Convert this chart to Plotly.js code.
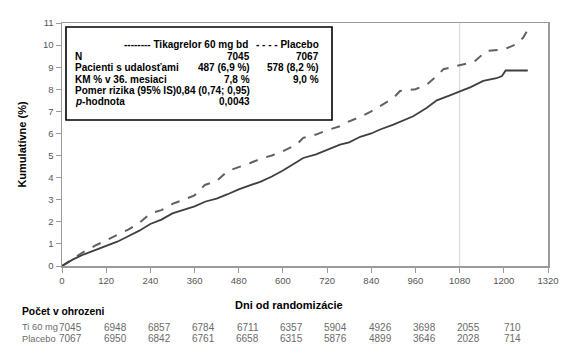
<!DOCTYPE html>
<html><head><meta charset="utf-8">
<script src="https://cdn.plot.ly/plotly-3.0.1.min.js"></script>
<style>html,body{margin:0;padding:0;background:#fff}#c{width:572px;height:358px}</style>
</head><body><div id="c"></div>
<script>
// ---- data ----
const ticaDays = [0,30,60,90,120,150,180,210,240,270,300,330,360,390,420,450,480,510,540,570,600,640,655,690,720,755,780,810,840,864,900,930,954,990,1018,1050,1081,1110,1144,1180,1195,1205,1265];
const ticaPct  = [0,0.3,0.53,0.72,0.9,1.1,1.35,1.6,1.9,2.1,2.38,2.55,2.7,2.92,3.05,3.25,3.47,3.65,3.82,4.05,4.32,4.73,4.89,5.05,5.25,5.49,5.6,5.85,6.0,6.18,6.4,6.6,6.78,7.15,7.5,7.7,7.92,8.1,8.38,8.5,8.6,8.85,8.85];
const placDays = [0,30,60,90,120,150,180,210,240,270,300,330,360,388,420,450,480,510,540,570,600,637,655,690,720,755,780,810,840,864,900,918,960,990,1018,1036,1090,1120,1153,1200,1235,1253,1262];
const placPct  = [0,0.32,0.65,0.92,1.17,1.42,1.65,1.95,2.38,2.53,2.81,3.0,3.2,3.67,3.85,4.3,4.46,4.65,4.86,5.0,5.2,5.49,5.8,5.95,6.15,6.33,6.55,6.75,7.0,7.24,7.6,7.92,8.0,8.2,8.6,8.91,9.14,9.25,9.74,9.8,10.05,10.35,10.6];
const xTicks = [0,120,240,360,480,600,720,840,960,1080,1200,1320];
const yTicks = [0,1,2,3,4,5,6,7,8,9,10,11];
const riskTica = [7045,6948,6857,6784,6711,6357,5904,4926,3698,2055,710];
const riskPlac = [7067,6950,6842,6761,6658,6315,5876,4899,3646,2028,714];
const riskLabels = ['Ti 60 mg','Placebo'];
const legHeader = ['-------- Tikagrelor 60 mg bd','- - - - Placebo'];
const legRows = ['N','Pacienti s udalosťami','KM % v 36. mesiaci','Pomer rizika (95% IS)','<i>p</i>-hodnota'];
const legTica = ['7045','487 (6,9 %)','7,8 %','0,84 (0,74; 0,95)','0,0043'];
const legPlac = ['7067','578 (8,2 %)','9,0 %','',''];

// ---- layout helpers ----
const L=62, R=548, T=23, B=266;
const px = x => (x-L)/(R-L);
const py = y => (B-y)/(B-T);
const F = 'Arial, "Liberation Sans", sans-serif';

const traces = [
  {x: placDays, y: placPct, mode:'lines', line:{color:'#606060', width:2, dash:'dash'}, showlegend:false, hoverinfo:'skip'},
  {x: ticaDays, y: ticaPct, mode:'lines', line:{color:'#3f3f3f', width:1.8}, showlegend:false, hoverinfo:'skip'}
];

const ann = [];
const boldFont = {family:F, size:10, color:'#000'};
ann.push({xref:'paper',yref:'paper',x:px(250),y:py(44),xanchor:'right',yanchor:'middle',text:'<b>'+legHeader[0]+'</b>',showarrow:false,font:boldFont});
ann.push({xref:'paper',yref:'paper',x:px(321),y:py(44),xanchor:'right',yanchor:'middle',text:'<b>'+legHeader[1]+'</b>',showarrow:false,font:boldFont});
const rowY = [56,67.7,79.3,91,102];
legRows.forEach((r,i)=>{
  ann.push({xref:'paper',yref:'paper',x:px(73),y:py(rowY[i]),xanchor:'left',yanchor:'middle',text:'<b>'+r+'</b>',showarrow:false,font:boldFont});
  if(legTica[i]) ann.push({xref:'paper',yref:'paper',x:px(252),y:py(rowY[i]),xanchor:'right',yanchor:'middle',text:'<b>'+legTica[i]+'</b>',showarrow:false,font:boldFont});
  if(legPlac[i]) ann.push({xref:'paper',yref:'paper',x:px(321),y:py(rowY[i]),xanchor:'right',yanchor:'middle',text:'<b>'+legPlac[i]+'</b>',showarrow:false,font:boldFont});
});
// x title
ann.push({xref:'paper',yref:'paper',x:px(289),y:py(305),xanchor:'center',yanchor:'middle',text:'<b>Dni od randomizácie</b>',showarrow:false,font:{family:F,size:11,color:'#000'}});
ann.push({xref:'paper',yref:'paper',x:px(20),y:py(311),xanchor:'left',yanchor:'middle',text:'<b>Počet v ohrozeni</b>',showarrow:false,font:{family:F,size:10.3,color:'#000'}});
// risk table
const riskFont = {family:'"Liberation Sans", Arial, sans-serif', size:10, color:'#6a6a6a'};
const labFont = {family:'"Liberation Sans", Arial, sans-serif', size:9.3, color:'#6a6a6a'};
[riskTica,riskPlac].forEach((arr,r)=>{
  const yy = py(r===0?327:338.5);
  ann.push({xref:'paper',yref:'paper',x:px(20),y:yy,xanchor:'left',yanchor:'middle',text:riskLabels[r],showarrow:false,font:labFont});
  arr.forEach((v,i)=>{
    ann.push({xref:'x',yref:'paper',x:24+xTicks[i],y:yy,xanchor:'center',yanchor:'middle',text:String(v),showarrow:false,font:riskFont});
  });
});

const layout = {
  width:572, height:358,
  margin:{l:L, r:572-R, t:T, b:358-B},
  paper_bgcolor:'#fff', plot_bgcolor:'#fff',
  showlegend:false,
  font:{family:F},
  xaxis:{range:[0,1320], tickvals:xTicks, ticktext:xTicks.map(String), showgrid:false, zeroline:false,
    showline:true, linecolor:'#9a9a9a', linewidth:1.5, mirror:true, ticks:'outside', ticklen:5, tickcolor:'#9a9a9a',
    tickfont:{family:F,size:9.5,color:'#555'}},
  yaxis:{range:[0,11], tickvals:yTicks, ticktext:yTicks.map(String), showgrid:false, zeroline:false,
    showline:true, linecolor:'#9a9a9a', linewidth:1.5, mirror:true, ticks:'outside', ticklen:5, tickcolor:'#9a9a9a',
    tickfont:{family:F,size:9.5,color:'#555'},
    title:{text:'<b>Kumulatívne (%)</b>', font:{family:F,size:11,color:'#000'}, standoff:14}},
  shapes:[
    {type:'line', xref:'x', yref:'paper', x0:1080, x1:1080, y0:0, y1:1, line:{color:'#dcdcdc', width:1.2}, layer:'below'},
    {type:'rect', xref:'paper', yref:'paper', x0:px(66), x1:px(332), y0:py(120), y1:py(27), line:{color:'#000', width:1.6}, fillcolor:'#fff'}
  ],
  annotations: ann
};
Plotly.newPlot('c', traces, layout, {staticPlot:true, displayModeBar:false});
</script></body></html>
